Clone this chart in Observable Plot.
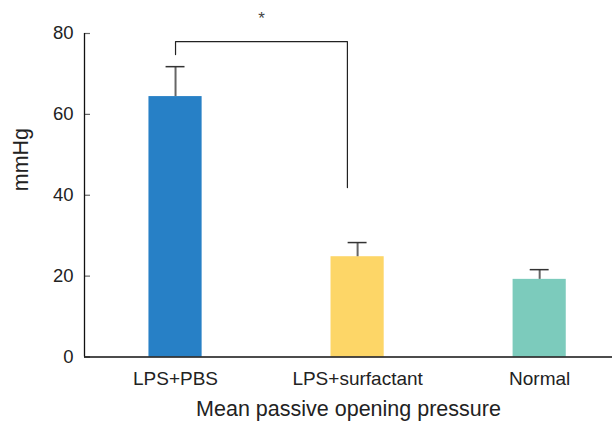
<!DOCTYPE html>
<html><head><meta charset="utf-8">
<script src="https://cdn.jsdelivr.net/npm/d3@7"></script>
<script src="https://cdn.jsdelivr.net/npm/@observablehq/plot@0.6"></script>
<style>body{margin:0;background:#fff} svg{display:block}</style>
</head><body><div id="chart"></div>
<script>
const groups = ["LPS+PBS", "LPS+surfactant", "Normal"];
const means = [64.4, 24.8, 19.2];
const errors = [7.4, 3.5, 2.4];
const colors = ["#2780c6", "#fdd667", "#7ccbbc"];
const yTicks = [0, 20, 40, 60, 80];
const bracketX = [0, 0, 0.944, 0.944];
const bracketY = [74.8, 78, 78, 41.9];
const sigLabel = "*";
const sigY = 83.6;
const xLabel = "Mean passive opening pressure";
const yLabel = "mmHg";

const data = groups.map((g, i) => ({i, g, mean: means[i], err: errors[i], color: colors[i]}));
const bracket = bracketX.map((x, k) => ({x, y: bracketY[k]}));
const halfBar = 0.146, halfCap = 0.052, tickLen = 0.033;
const xMin = -0.5;

const chart = Plot.plot({
  width: 612, height: 421,
  marginLeft: 84, marginRight: 0, marginTop: 33, marginBottom: 64.5,
  style: {fontFamily: "'Liberation Sans', Arial, sans-serif", background: "#fff", color: "#222"},
  x: {domain: [xMin, 2.4], axis: null},
  y: {domain: [0, 80], axis: null},
  color: {type: "identity"},
  marks: [
    Plot.rectY(data, {x1: d => d.i - halfBar, x2: d => d.i + halfBar, y1: 0, y2: "mean", fill: "color"}),
    Plot.ruleX(data, {x: "i", y1: "mean", y2: d => d.mean + d.err, stroke: "#666", strokeWidth: 2}),
    Plot.ruleY(data, {y: d => d.mean + d.err, x1: d => d.i - halfCap, x2: d => d.i + halfCap, stroke: "#333", strokeWidth: 1.5}),
    Plot.ruleY(yTicks, {y: d => d, x1: xMin, x2: xMin + tickLen, stroke: "#666", strokeWidth: 1.2}),
    Plot.axisY({ticks: yTicks, tickSize: 0, tickPadding: 11, fontSize: 18.5, label: null}),
    Plot.axisX({ticks: [0, 1, 2], tickFormat: i => groups[i], tickSize: 0, tickPadding: 14, fontSize: 19, label: null}),
    Plot.ruleX([xMin], {y1: 0, y2: 80, stroke: "#111", strokeWidth: 1.3}),
    Plot.ruleY([0], {stroke: "#111", strokeWidth: 1.5}),
    Plot.line(bracket, {x: "x", y: "y", stroke: "#222", strokeWidth: 1.2}),
    Plot.text([sigLabel], {x: (bracketX[0] + bracketX[2]) / 2, y: sigY, fontSize: 17, fill: "#444"}),
    Plot.text([yLabel], {frameAnchor: "left", rotate: -90, dx: -63, dy: -4, fontSize: 21.5, lineAnchor: "middle"}),
    Plot.text([xLabel], {frameAnchor: "bottom", dy: 52, fontSize: 21.5, lineAnchor: "middle"})
  ]
});
document.getElementById("chart").appendChild(chart);
</script>
</body></html>
